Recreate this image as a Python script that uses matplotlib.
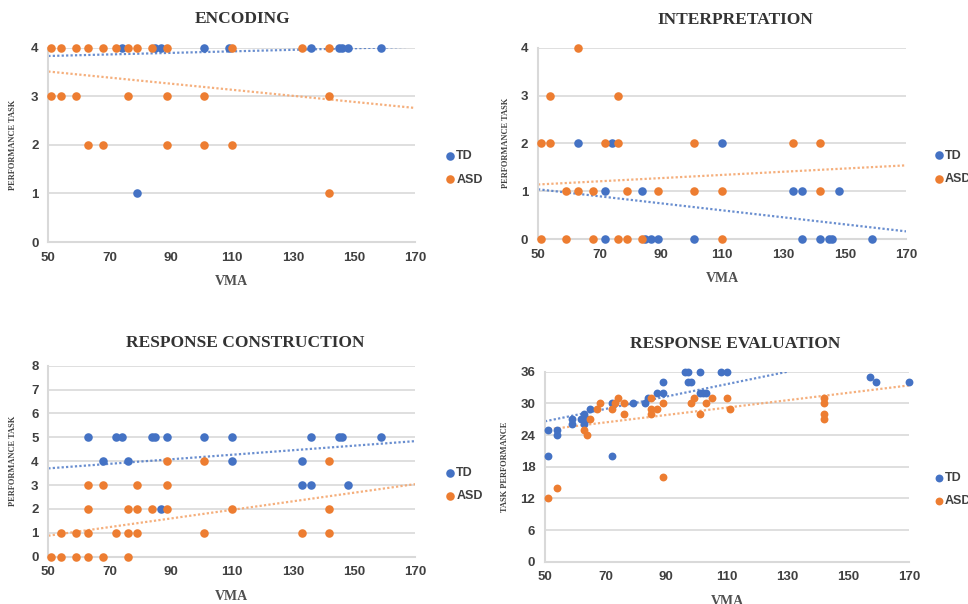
import matplotlib
matplotlib.use('Agg')
import matplotlib.pyplot as plt

TD_COLOR = '#4472C4'
ASD_COLOR = '#ED7D31'
GRID = '#d9d9d9'

# ---- ENCODING ----
enc_td_x = [74, 85, 87, 101, 109, 136, 145, 146, 148, 159, 79]
enc_td_y = [4, 4, 4, 4, 4, 4, 4, 4, 4, 4, 1]
enc_asd_x = [51, 54, 59, 63, 68, 72, 76, 79, 84, 89, 110, 133, 142,
             51, 54, 59, 76, 89, 101, 142,
             63, 68, 89, 101, 110,
             142]
enc_asd_y = [4]*13 + [3]*7 + [2]*5 + [1]
enc_td_trend = [3.83, 4.02]
enc_asd_trend = [3.51, 2.76]

# ---- INTERPRETATION ----
int_td_x = [63, 74, 110,
            72, 84, 133, 136, 148,
            72, 85, 87, 89, 101, 136, 142, 145, 146, 159]
int_td_y = [2]*3 + [1]*5 + [0]*10
int_asd_x = [63,
             54, 76,
             51, 54, 72, 76, 101, 133, 142,
             59, 63, 68, 79, 89, 101, 110, 142,
             51, 59, 68, 76, 79, 84, 110]
int_asd_y = [4] + [3]*2 + [2]*7 + [1]*8 + [0]*7
int_td_trend = [1.04, 0.16]
int_asd_trend = [1.14, 1.54]

# ---- RESPONSE CONSTRUCTION ----
con_td_x = [63, 72, 74, 84, 85, 89, 101, 110, 136, 145, 146, 159,
            68, 76, 110, 133,
            133, 136, 148,
            87]
con_td_y = [5]*12 + [4]*4 + [3]*3 + [2]
con_asd_x = [89, 101, 142,
             63, 68, 79, 89,
             63, 76, 79, 84, 89, 110, 142,
             54, 59, 63, 72, 76, 79, 101, 133, 142,
             51, 54, 59, 63, 68, 76]
con_asd_y = [4]*3 + [3]*4 + [2]*7 + [1]*9 + [0]*6
con_td_trend = [3.70, 4.84]
con_asd_trend = [0.88, 3.04]

# ---- RESPONSE EVALUATION ----
eva_td_x = [51, 51, 54, 54, 59, 59, 62, 63, 63, 64, 65, 72, 72, 79, 83, 84,
            87, 89, 89, 96, 97, 97, 98, 101, 101, 102, 103, 108, 110,
            157, 159, 170]
eva_td_y = [25, 20, 25, 24, 27, 26, 27, 28, 26, 27, 29, 30, 20, 30, 30, 31,
            32, 32, 34, 36, 36, 34, 34, 36, 32, 32, 32, 36, 36,
            35, 34, 34]
eva_asd_x = [51, 54, 63, 64, 65, 67, 68, 72, 73, 74, 76, 76, 85, 85, 85, 87,
             89, 89, 98, 99, 101, 103, 105, 110, 111,
             142, 142, 142, 142]
eva_asd_y = [12, 14, 25, 24, 27, 29, 30, 29, 30, 31, 30, 28, 29, 28, 31, 29,
             30, 16, 30, 31, 28, 30, 31, 31, 29,
             31, 30, 28, 27]
eva_td_trend_x = [50, 130]
eva_td_trend = [26.6, 36.0]
eva_asd_trend = [25.0, 33.4]

x_ticks = [50, 70, 90, 110, 130, 150, 170]

fig = plt.figure(figsize=(9.68, 6.04), dpi=100)

panels = [
    dict(rect=[0.0499, 0.5993, 0.3788, 0.3217], title='ENCODING', tx=0.531, ty=1.148,
         td=(enc_td_x, enc_td_y), asd=(enc_asd_x, enc_asd_y),
         tdt=([50, 170], enc_td_trend), asdt=([50, 170], enc_asd_trend),
         yt=[0, 1, 2, 3, 4], ylabel='PERFORMANCE TASK', ylx=-0.085,
         leg=(0.452, 0.722), s=38),
    dict(rect=[0.5558, 0.6043, 0.3802, 0.3167], title='INTERPRETATION', tx=0.535, ty=1.145,
         td=(int_td_x, int_td_y), asd=(int_asd_x, int_asd_y),
         tdt=([50, 170], int_td_trend), asdt=([50, 170], int_asd_trend),
         yt=[0, 1, 2, 3, 4], ylabel='PERFORMANCE TASK', ylx=-0.076,
         leg=(0.957, 0.723), s=38),
    dict(rect=[0.0499, 0.0783, 0.3788, 0.3162], title='RESPONSE CONSTRUCTION', tx=0.536, ty=1.119,
         td=(con_td_x, con_td_y), asd=(con_asd_x, con_asd_y),
         tdt=([50, 170], con_td_trend), asdt=([50, 170], con_asd_trend),
         yt=list(range(9)), ylabel='PERFORMANCE TASK', ylx=-0.085,
         leg=(0.452, 0.198), s=38),
    dict(rect=[0.563, 0.070, 0.376, 0.3146], title='RESPONSE EVALUATION', tx=0.522, ty=1.146,
         td=(eva_td_x, eva_td_y), asd=(eva_asd_x, eva_asd_y),
         tdt=(eva_td_trend_x, eva_td_trend), asdt=([50, 170], eva_asd_trend),
         yt=[0, 6, 12, 18, 24, 30, 36], ylabel='TASK PERFORMANCE', ylx=-0.099,
         leg=(0.957, 0.189), s=32),
]

for p in panels:
    ax = fig.add_axes(p['rect'])
    ax.set_xlim(50, 170)
    ax.set_ylim(p['yt'][0], p['yt'][-1])
    ax.set_xticks(x_ticks)
    ax.set_yticks(p['yt'])
    ax.grid(axis='y', color=GRID, lw=1.2)
    ax.set_axisbelow(True)
    for side in ['top', 'right']:
        ax.spines[side].set_visible(False)
    for side in ['left', 'bottom']:
        ax.spines[side].set_color(GRID)
        ax.spines[side].set_linewidth(1.5)
    ax.tick_params(length=0, labelsize=9.5, labelcolor='#404040', pad=7)
    for lab in ax.get_xticklabels() + ax.get_yticklabels():
        lab.set_family('Liberation Sans')
        lab.set_fontweight('bold')

    ax.plot(p['tdt'][0], p['tdt'][1], color=TD_COLOR, lw=1.6, ls=(0, (1, 1)), alpha=0.8)
    ax.plot(p['asdt'][0], p['asdt'][1], color='#F4A66E', lw=1.6, ls=(0, (1, 1)), alpha=0.9)
    ax.scatter(p['td'][0], p['td'][1], s=p['s'], color=TD_COLOR, label='TD',
               clip_on=False, zorder=3, linewidths=0)
    ax.scatter(p['asd'][0], p['asd'][1], s=p['s'], color=ASD_COLOR, label='ASD',
               clip_on=False, zorder=3, linewidths=0)

    ax.text(p['tx'], p['ty'], p['title'], transform=ax.transAxes, ha='center', va='center',
            fontsize=12.5, family='Liberation Serif', fontweight='bold', color='#333333')
    ax.set_xlabel('VMA', fontsize=10, family='Liberation Serif', fontweight='bold',
                  color='#505050', labelpad=8)
    ax.set_ylabel(p['ylabel'], fontsize=6, family='Liberation Serif', fontweight='bold',
                  color='#404040')
    ax.yaxis.set_label_coords(p['ylx'], 0.5)

    fig.legend(handles=ax.collections[:2], labels=['TD', 'ASD'], loc='center left',
               bbox_to_anchor=p['leg'], frameon=False, handletextpad=0.0,
               handlelength=1.0, labelspacing=0.9, borderpad=0,
               prop={'family': 'Liberation Sans', 'size': 9, 'weight': 'bold'},
               labelcolor='#404040')

fig.savefig('out.png', dpi=100)
